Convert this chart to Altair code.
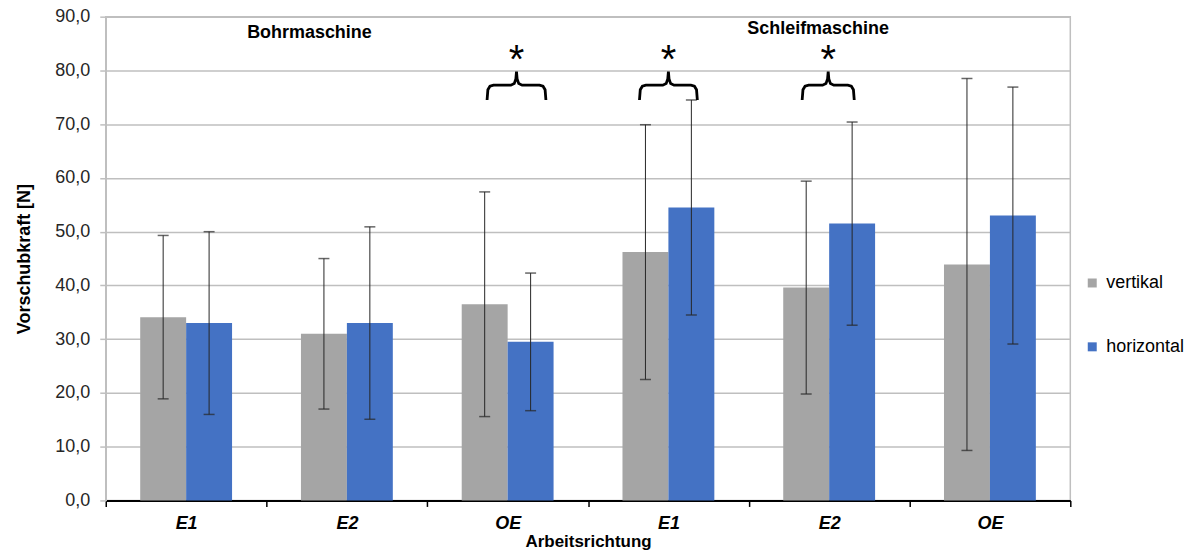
import altair as alt
import pandas as pd

# ---- data ----
machines = ["Bohrmaschine"] * 3 + ["Schleifmaschine"] * 3
directions = ["E1", "E2", "OE", "E1", "E2", "OE"]
series = ["vertikal", "horizontal"]
vert_mean = [34.1, 31.0, 36.5, 46.2, 39.6, 43.9]
vert_sd = [15.2, 14.0, 20.9, 23.7, 19.8, 34.6]
hor_mean = [33.0, 33.0, 29.5, 54.5, 51.5, 53.0]
hor_sd = [17.0, 17.9, 12.8, 20.0, 18.9, 23.9]
y_ticks = [0, 10, 20, 30, 40, 50, 60, 70, 80, 90]

# ---- annotations (group index units / value units) ----
sig_groups = [2, 3, 4]
sig_shift = [0.055, 0.0, -0.006]
sig_halfwidth = [0.183, 0.18, 0.162]
group_titles = ["Bohrmaschine", "Schleifmaschine"]
group_title_x = [1.267, 4.431]
group_title_y = [86.0, 86.8]
star_y = 79.6

keys = [f"{m}|{d}" for m, d in zip(machines, directions)]
rows = []
for i, k in enumerate(keys):
    for s, mean, sd in (("vertikal", vert_mean[i], vert_sd[i]),
                        ("horizontal", hor_mean[i], hor_sd[i])):
        rows.append({"key": k, "series": s, "mean": mean,
                     "lo": mean - sd, "hi": mean + sd})
df = pd.DataFrame(rows)


def brace_points(c, w):
    left = [(-w, 74.5), (-w + 0.005, 76.4), (-w + 0.018, 77.05), (-w + 0.04, 77.25),
            (-0.035, 77.25), (-0.014, 77.55), (-0.004, 78.4), (0.0, 79.8)]
    right = [(-dx, y) for dx, y in reversed(left[:-1])]
    return [(c + dx, y) for dx, y in left + right]


brows = []
for j, (g, sh, w) in enumerate(zip(sig_groups, sig_shift, sig_halfwidth)):
    c = g + 0.5 + sh
    for o, (qxv, y) in enumerate(brace_points(c, w)):
        brows.append({"b": j, "o": o, "qx": qxv, "y": y})
bdf = pd.DataFrame(brows)
sdf = pd.DataFrame({"qx": [g + 0.5 + sh for g, sh in zip(sig_groups, sig_shift)],
                    "y": [star_y] * len(sig_groups), "t": ["*"] * len(sig_groups)})
tdf = pd.DataFrame({"qx": group_title_x, "y": group_title_y, "t": group_titles})

W, H = 967, 485
FONT = "Liberation Sans"

x = alt.X("key:N", sort=keys,
          scale=alt.Scale(paddingInner=0, paddingOuter=0),
          axis=alt.Axis(title="Arbeitsrichtung",
                        labelExpr="split(datum.label, '|')[1]",
                        labelAngle=0, tickBand="extent",
                        domainColor="black", domainWidth=2,
                        tickColor="black", tickWidth=1.5, tickSize=6,
                        labelFontSize=18, labelFontWeight="bold",
                        labelFontStyle="italic", labelColor="black",
                        labelPadding=8,
                        titleFontSize=17, titleFontWeight="bold",
                        titleColor="black", titlePadding=1))
xo = alt.XOffset("series:N", sort=series,
                 scale=alt.Scale(paddingOuter=0.75, paddingInner=0))
yscale = alt.Scale(domain=[0, 90], nice=False, zero=True)
yaxis = alt.Axis(values=y_ticks, title="Vorschubkraft [N]",
                 labelExpr="replace(format(datum.value, '.1f'), '.', ',')",
                 gridColor="#bfbfbf", gridWidth=1.5,
                 domainColor="#bfbfbf", domainWidth=1.5,
                 tickColor="#bfbfbf", tickWidth=1.5, tickSize=6,
                 labelFontSize=18, labelColor="#262626", labelPadding=10,
                 titleFontSize=18, titleFontWeight="bold", titleColor="black",
                 titlePadding=21)

base = alt.Chart(df)
bars = base.mark_bar().encode(
    x=x, xOffset=xo,
    y=alt.Y("mean:Q", scale=yscale, axis=yaxis),
    color=alt.Color("series:N", sort=series,
                    scale=alt.Scale(domain=series, range=["#a5a5a5", "#4472c4"]),
                    legend=alt.Legend(title=None, orient="none",
                                      legendX=980, legendY=258,
                                      symbolType="square", symbolSize=81,
                                      symbolStrokeWidth=0,
                                      labelFontSize=18, labelColor="black",
                                      labelOffset=5, rowPadding=46,
                                      labelLimit=200)),
)
err = base.mark_rule(color="#262626", strokeWidth=1).encode(
    x=x, xOffset=xo, y="lo:Q", y2="hi:Q")
cap_hi = base.mark_tick(orient="horizontal", size=11, thickness=1.5,
                        color="#262626").encode(x=x, xOffset=xo, y="hi:Q")
cap_lo = base.mark_tick(orient="horizontal", size=11, thickness=1.5,
                        color="#262626").encode(x=x, xOffset=xo, y="lo:Q")
main = alt.layer(bars, err, cap_hi, cap_lo)

qx = alt.X("qx:Q", scale=alt.Scale(domain=[0, 6], nice=False, zero=False), axis=None)
qy = alt.Y("y:Q", scale=yscale)
braces = alt.Chart(bdf).mark_line(color="black", strokeWidth=2.8).encode(
    x=qx, y=qy, detail="b:N", order="o:Q")
stars = alt.Chart(sdf).mark_text(fontSize=40, font=FONT, color="black",
                                 baseline="alphabetic", align="center").encode(
    x=qx, y=qy, text="t:N")
titles = alt.Chart(tdf).mark_text(fontSize=18, font=FONT, fontWeight="bold",
                                  color="black", baseline="alphabetic",
                                  align="center").encode(x=qx, y=qy, text="t:N")
ann = alt.layer(braces, stars, titles)

chart = alt.layer(main, ann).resolve_scale(
    x="independent"
).properties(
    width=W, height=H,
    autosize=alt.AutoSizeParams(type="none"),
    padding={"left": 98, "top": 8, "right": 118, "bottom": 52},
).configure(font=FONT).configure_view(stroke="#bfbfbf", strokeWidth=1.5)

chart.save("out.html", embed_options={"renderer": "svg", "actions": False})
